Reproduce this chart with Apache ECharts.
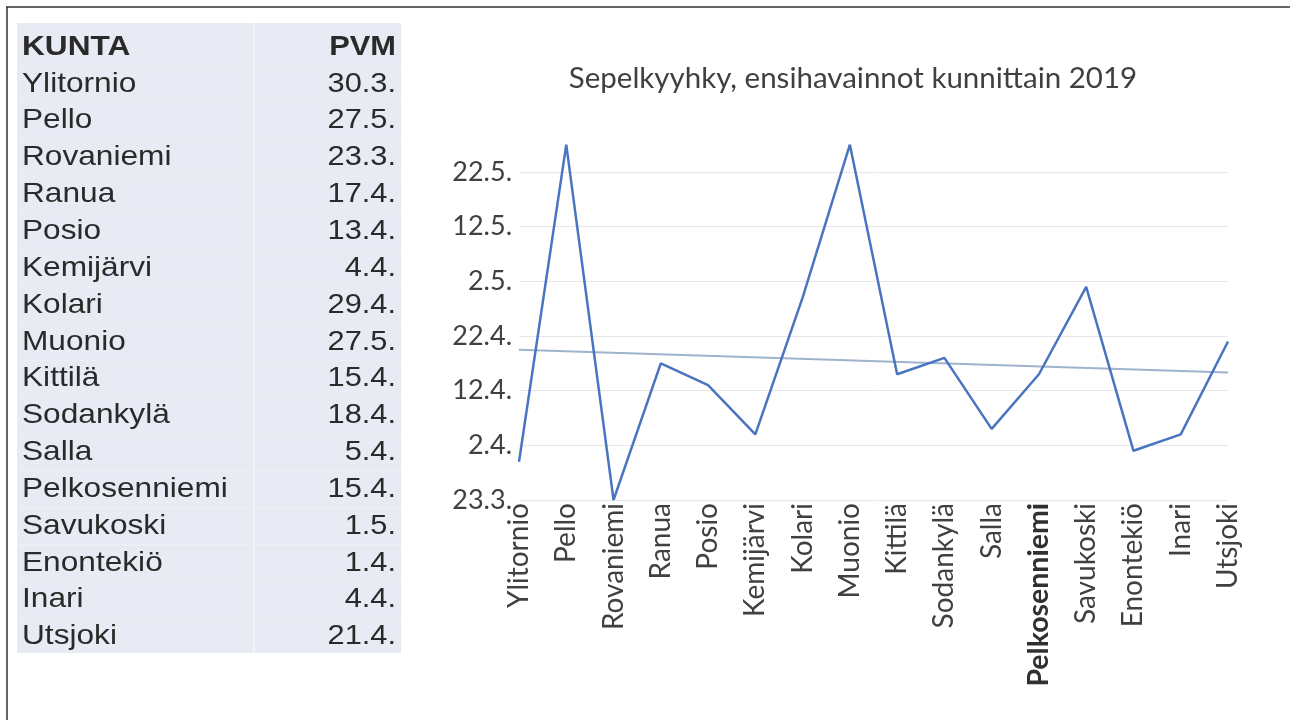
<!DOCTYPE html>
<html>
<head>
<meta charset="utf-8">
<script src="https://cdn.jsdelivr.net/npm/echarts@6/dist/echarts.min.js"></script>
<style>
html,body{margin:0;padding:0;background:#fff;}
#chart{width:1290px;height:720px;}
</style>
</head>
<body>
<div id="chart"></div>
<script>
// Data
const municipalities = ['Ylitornio','Pello','Rovaniemi','Ranua','Posio','Kemijärvi','Kolari','Muonio','Kittilä','Sodankylä','Salla','Pelkosenniemi','Savukoski','Enontekiö','Inari','Utsjoki'];
const firstDates = ['30.3.','27.5.','23.3.','17.4.','13.4.','4.4.','29.4.','27.5.','15.4.','18.4.','5.4.','15.4.','1.5.','1.4.','4.4.','21.4.'];
// days after 23.3. (axis origin)
const dayValues = [7,65,0,25,21,12,37,65,23,26,13,23,39,9,12,29];
const yTickLabels = ['23.3.','2.4.','12.4.','22.4.','2.5.','12.5.','22.5.'];
const trendEnds = [27.5, 23.3];
const tableHeader = ['KUNTA','PVM'];
const chartTitle = 'Sepelkyyhky, ensihavainnot kunnittain 2019';

const chart = echarts.init(document.getElementById('chart'));

const trendData = municipalities.map((_, i) => i === 0 ? trendEnds[0] : (i === municipalities.length - 1 ? trendEnds[1] : null));

// table graphics
const tableChildren = [];
tableChildren.push({type:'rect', shape:{x:17,y:23,width:384,height:630}, style:{fill:'#e8ebf3'}, z:0});
tableChildren.push({type:'line', shape:{x1:254,y1:23,x2:254,y2:653}, style:{stroke:'#f1f3f8',lineWidth:2}, z:1});
const rowTop = 47, rowH = 36.85;
for (let i = 1; i <= municipalities.length; i++) {
  const yy = rowTop + rowH * (i - 0.5);
  tableChildren.push({type:'line', shape:{x1:17,y1:yy,x2:401,y2:yy}, style:{stroke:'#eef0f6',lineWidth:1}, z:1});
}
const rowsAll = [[tableHeader[0], tableHeader[1], true]].concat(municipalities.map((m, i) => [m, firstDates[i], false]));
rowsAll.forEach((r, i) => {
  const yy = rowTop + rowH * i;
  tableChildren.push({type:'text', x:22, y:yy, scaleX:1.13, z:2,
    style:{text:r[0], x:0, y:0, align:'left', verticalAlign:'middle', fill:'#2a2a2a', font:(r[2]?'bold ':'')+'28px "Liberation Sans", Arial, sans-serif'}});
  tableChildren.push({type:'text', x:396, y:yy, scaleX:1.1, z:2,
    style:{text:r[1], x:0, y:0, align:'right', verticalAlign:'middle', fill:'#2a2a2a', font:(r[2]?'bold ':'')+'28px "Liberation Sans", Arial, sans-serif'}});
});

const option = {
  backgroundColor:'#ffffff',
  animation:false,
  title:{
    text: chartTitle, left: 848, top: 58, textAlign:'center',
    textStyle:{fontFamily:'Lato', fontSize:29.5, fontWeight:'normal', color:'#404040'}
  },
  grid:{left:519, right:62, top:117.3, bottom:220, containLabel:false},
  xAxis:{
    type:'category', data: municipalities, boundaryGap:false,
    axisLine:{show:false}, axisTick:{show:false},
    axisLabel:{
      rotate:90, margin:3, interval:0, color:'#404040', fontFamily:'Lato', fontSize:28,
      formatter: v => v === 'Pelkosenniemi' ? '{b|' + v + '}' : v,
      rich:{b:{fontWeight:'bold', fontFamily:'Lato', fontSize:28.5, color:'#303030'}}
    },
    splitLine:{show:false}
  },
  yAxis:{
    type:'value', min:0, max:70, interval:10,
    axisLine:{show:false}, axisTick:{show:false},
    axisLabel:{
      margin:7, color:'#404040', fontFamily:'Lato', fontSize:27, showMaxLabel:false,
      formatter: v => yTickLabels[Math.round(v/10)] || ''
    },
    splitLine:{show:true, showMaxLine:false, lineStyle:{color:'#e6e6e6', width:1}}
  },
  series:[
    {type:'line', data: dayValues, symbol:'none', lineStyle:{color:'#4a74c0', width:2.5}, z:3},
    {type:'line', data: trendData, connectNulls:true, symbol:'none', lineStyle:{color:'#9fb3cc', width:2}, z:2}
  ],
  graphic:[
    {type:'line', shape:{x1:6,y1:7,x2:1290,y2:7}, style:{stroke:'#333',lineWidth:1.5}},
    {type:'line', shape:{x1:7,y1:7,x2:7,y2:720}, style:{stroke:'#333',lineWidth:1.5}},
    {type:'group', children: tableChildren}
  ]
};
chart.setOption(option);
</script>
</body>
</html>
